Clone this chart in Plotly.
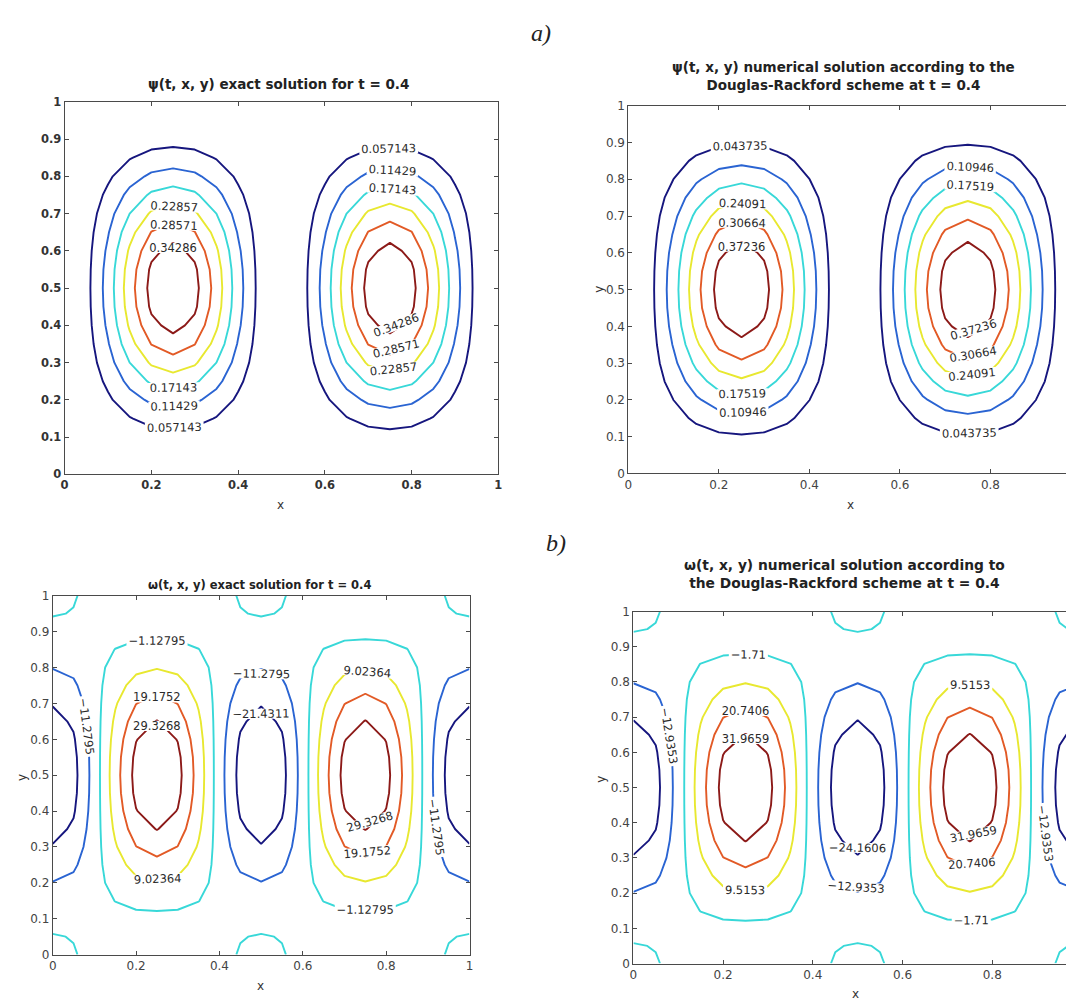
import numpy as np
import plotly.graph_objects as go

# ---------------- data ----------------
psi_exact_levels = [0.057143, 0.11429, 0.17143, 0.22857, 0.28571, 0.34286]
psi_num_levels = [0.043735, 0.10946, 0.17519, 0.24091, 0.30664, 0.37236]
omega_exact_levels = [-21.4311, -11.2795, -1.12795, 9.02364, 19.1752, 29.3268]
omega_num_levels = [-24.1606, -12.9353, -1.71, 9.5153, 20.7406, 31.9659]

psi_exact_max = 0.4            # peak of exact psi
psi_num_range = [-0.02199, 0.43809]   # min / max of numerical psi
omega_num_range = [-35.386, 43.19]    # min / max of numerical omega

x_ticks = [0, 0.2, 0.4, 0.6, 0.8, 1]
y_ticks = [0, 0.1, 0.2, 0.3, 0.4, 0.5, 0.6, 0.7, 0.8, 0.9, 1]

level_colors = ["#16167e", "#2a64d2", "#38d8d8", "#e8e830", "#e25a26", "#8c1a18"]

titles = [
    "ψ(t, x, y) exact solution for t = 0.4",
    "ψ(t, x, y) numerical solution according to the<br>Douglas-Rackford scheme at t = 0.4",
    "ω(t, x, y) exact solution for t = 0.4",
    "ω(t, x, y) numerical solution according to<br>the Douglas-Rackford scheme at t = 0.4",
]

FONT = "DejaVu Sans, Arial"

# ---------------- fields on the computational grid ----------------
xg = np.linspace(0, 1, 21)
yg = np.linspace(0, 1, 21)
X, Y = np.meshgrid(xg, yg)

psi_exact = psi_exact_max * np.sin(2 * np.pi * X) ** 2 * np.sin(np.pi * Y) ** 2
a = psi_exact_max / 4
omega_exact = -a * (16 * np.pi ** 2 * np.cos(4 * np.pi * X) * (1 - np.cos(2 * np.pi * Y))
                    + 4 * np.pi ** 2 * (1 - np.cos(4 * np.pi * X)) * np.cos(2 * np.pi * Y))

shape_num = np.abs(np.sin(2 * np.pi * X)) ** 1.9 * np.abs(np.sin(np.pi * Y)) ** 1.75
psi_num = psi_num_range[0] + (psi_num_range[1] - psi_num_range[0]) * shape_num

w_lo, w_hi = omega_exact.min(), omega_exact.max()
omega_num = omega_num_range[0] + (omega_exact - w_lo) / (w_hi - w_lo) * (omega_num_range[1] - omega_num_range[0])

fig = go.Figure()

panels = [
    (psi_exact, psi_exact_levels, ".5~g", "x", "y"),
    (psi_num, psi_num_levels, ".5~g", "x2", "y2"),
    (omega_exact, omega_exact_levels, ".6~g", "x3", "y3"),
    (omega_num, omega_num_levels, ".6~g", "x4", "y4"),
]

for z, levels, fmt, xa, ya in panels:
    for lev, col in zip(levels, level_colors):
        fig.add_trace(go.Contour(
            x=xg, y=yg, z=z,
            contours=dict(start=lev, end=lev, size=1, coloring="lines",
                          showlabels=True, labelformat=fmt,
                          labelfont=dict(size=11.5, color="#2a2a2a", family=FONT)),
            colorscale=[[0, col], [1, col]],
            line=dict(width=1.9, smoothing=0),
            showscale=False, hoverinfo="skip",
            xaxis=xa, yaxis=ya,
        ))

W, H = 1074, 999

def px_dom_x(a, b):
    return [a / W, min(b / W, 1.0)]

def px_dom_y(top, bottom):
    return [1 - bottom / H, 1 - top / H]

# pixel boxes of the four plot areas: (left, right, top, bottom)
boxes = [(53, 490, 88, 466), (621, 1077, 92, 465), (41, 461, 589, 953), (626, 1078, 605, 962)]

axis_common = dict(showgrid=False, zeroline=False, showline=True, linecolor="#4a4a4a",
                   linewidth=1, ticks="inside", ticklen=4, tickcolor="#4a4a4a")

for i, (l, r, t, b) in enumerate(boxes):
    sfx = "" if i == 0 else str(i + 1)
    xmax = min(1.0, (W - l) / (r - l))
    if i == 0:
        tf = dict(size=11.5, color="#333333", family=FONT, weight="bold")
    else:
        tf = dict(size=12, color="#444444", family=FONT)
    fig.layout["xaxis" + sfx] = dict(
        axis_common, domain=px_dom_x(l, r), range=[0, xmax if xmax < 1 else 1],
        tickvals=x_ticks, ticktext=[("%g" % v) for v in x_ticks],
        mirror="ticks", anchor="y" + sfx, tickfont=tf)
    fig.layout["yaxis" + sfx] = dict(
        axis_common, domain=px_dom_y(t, b), range=[0, 1],
        tickvals=y_ticks, ticktext=[("%g" % v) for v in y_ticks],
        mirror="ticks" if xmax >= 1 else False, anchor="x" + sfx, tickfont=tf)

annotations = []
title_pos = [(268, 70, 13.5), (838, 62, 13.5), (249, 578, 11.5), (839, 567, 13.8)]
for (cx, cy, fs), txt in zip(title_pos, titles):
    annotations.append(dict(x=cx / W, y=1 - cy / H, xref="paper", yref="paper",
                            xanchor="center", yanchor="middle",
                            text="<b>" + txt + "</b>", showarrow=False,
                            font=dict(size=fs, color="#222222", family=FONT)))

xlabel_pos = [(271, 497), (845, 497), (250, 985), (850, 993)]
for cx, cy in xlabel_pos:
    annotations.append(dict(x=cx / W, y=1 - cy / H, xref="paper", yref="paper", text="x",
                            xanchor="center", yanchor="middle",
                            showarrow=False, font=dict(size=12, color="#333333", family=FONT)))
ylabel_pos = [(592, 278), (10, 773), (594, 775)]
for cx, cy in ylabel_pos:
    annotations.append(dict(x=cx / W, y=1 - cy / H, xref="paper", yref="paper", text="y",
                            xanchor="center", yanchor="middle",
                            textangle=-90, showarrow=False,
                            font=dict(size=12, color="#333333", family=FONT)))

annotations.append(dict(x=533 / W, y=1 - 18 / H, xref="paper", yref="paper", text="<i>a)</i>",
                        xanchor="center", yanchor="middle",
                        showarrow=False, font=dict(size=24, color="#222222",
                                                   family="Liberation Serif, Times New Roman")))
annotations.append(dict(x=548 / W, y=1 - 535 / H, xref="paper", yref="paper", text="<i>b)</i>",
                        xanchor="center", yanchor="middle",
                        showarrow=False, font=dict(size=24, color="#222222",
                                                   family="Liberation Serif, Times New Roman")))

fig.update_layout(
    width=W, height=H, autosize=False,
    margin=dict(l=0, r=0, t=0, b=0),
    paper_bgcolor="white", plot_bgcolor="white",
    showlegend=False, annotations=annotations,
)

fig.write_html("out.html")
